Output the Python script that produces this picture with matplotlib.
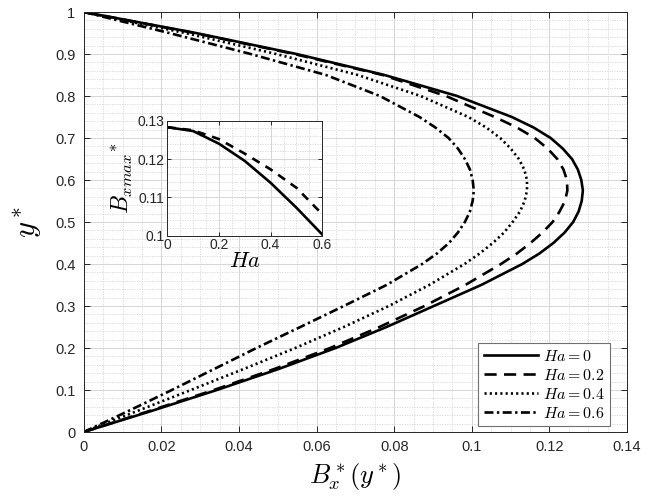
import matplotlib
matplotlib.use("Agg")
import matplotlib.pyplot as plt
from matplotlib.ticker import MultipleLocator

plt.rcParams['font.family'] = ['Liberation Sans', 'DejaVu Sans']
plt.rcParams['mathtext.fontset'] = 'cm'

# ---- data ----
y_star = [0, 0.05, 0.1, 0.15, 0.2, 0.25, 0.3, 0.35, 0.4, 0.425, 0.45, 0.475, 0.5,
          0.525, 0.55, 0.575, 0.6, 0.625, 0.65, 0.675, 0.7, 0.725, 0.75, 0.8,
          0.85, 0.9, 0.95, 1.0]
bx_ha0 = [0, 0.0174, 0.0343, 0.0502, 0.0649, 0.0780, 0.0902, 0.1024, 0.1130, 0.1174,
          0.1210, 0.1239, 0.1261, 0.1275, 0.1283, 0.1286, 0.1282, 0.1273, 0.1258,
          0.1234, 0.1203, 0.1159, 0.1103, 0.0962, 0.0775, 0.0548, 0.0289, 0]
bx_ha02 = [0, 0.0169, 0.0335, 0.0491, 0.0635, 0.0762, 0.0878, 0.0983, 0.1075, 0.1116,
           0.1151, 0.1182, 0.1208, 0.1226, 0.1240, 0.1246, 0.1245, 0.1236, 0.1220,
           0.1195, 0.1162, 0.1116, 0.1059, 0.0933, 0.0770, 0.0542, 0.0285, 0]
bx_ha04 = [0, 0.0138, 0.0276, 0.0412, 0.0545, 0.0670, 0.0786, 0.0890, 0.0981, 0.1020,
           0.1054, 0.1083, 0.1105, 0.1124, 0.1136, 0.1142, 0.1142, 0.1135, 0.1121,
           0.1100, 0.1073, 0.1037, 0.0991, 0.0868, 0.0706, 0.0496, 0.0261, 0]
bx_ha06 = [0, 0.0115, 0.0227, 0.0336, 0.0445, 0.0558, 0.0670, 0.0780, 0.0872, 0.0910,
           0.0941, 0.0964, 0.0982, 0.0995, 0.1002, 0.1005, 0.1002, 0.0995, 0.0982,
           0.0964, 0.0940, 0.0906, 0.0865, 0.0763, 0.0624, 0.0430, 0.0220, 0]
legend_labels = [r'$Ha=0$', r'$Ha=0.2$', r'$Ha=0.4$', r'$Ha=0.6$']

ha_inset = [0, 0.1, 0.2, 0.3, 0.4, 0.5, 0.6]
bxmax_a = [0.1283, 0.1273, 0.1240, 0.1195, 0.1138, 0.1073, 0.1003]
bxmax_b = [0.1283, 0.1275, 0.1252, 0.1214, 0.1173, 0.1125, 0.1056]

x_ticks = [0, 0.02, 0.04, 0.06, 0.08, 0.1, 0.12, 0.14]
x_ticklabels = ['0', '0.02', '0.04', '0.06', '0.08', '0.1', '0.12', '0.14']
y_ticks = [0, 0.1, 0.2, 0.3, 0.4, 0.5, 0.6, 0.7, 0.8, 0.9, 1]
y_ticklabels = ['0', '0.1', '0.2', '0.3', '0.4', '0.5', '0.6', '0.7', '0.8', '0.9', '1']

# ---- styles ----
AX_COL = '#262626'
styles = [
    dict(linestyle='-'),
    dict(linestyle=(0, (4.6, 2.8))),
    dict(linestyle=(0, (0.8, 1.2))),
    dict(linestyle=(0, (3.4, 1.3, 0.9, 1.3))),
]

fig = plt.figure(figsize=(6.7, 5.0), dpi=100)
ax = fig.add_axes([0.125, 0.136, 0.811, 0.840])

for xs, st, lab in zip([bx_ha0, bx_ha02, bx_ha04, bx_ha06], styles, legend_labels):
    ax.plot(xs, y_star, color='black', linewidth=1.9, label=lab, **st)

ax.set_xlim(0, 0.14)
ax.set_ylim(0, 1)
ax.set_xticks(x_ticks)
ax.set_xticklabels(x_ticklabels)
ax.set_yticks(y_ticks)
ax.set_yticklabels(y_ticklabels)
ax.xaxis.set_minor_locator(MultipleLocator(0.005))
ax.yaxis.set_minor_locator(MultipleLocator(0.02))
ax.grid(which='major', color='#d6d6d6', linewidth=0.7, linestyle='-')
ax.grid(which='minor', color='#d6d6d6', linewidth=0.6, linestyle=(0, (1.5, 1.5)))
ax.set_axisbelow(True)
ax.tick_params(which='major', direction='in', length=4, width=0.7, colors=AX_COL,
               labelsize=10.5, top=True, right=True, pad=6)
ax.tick_params(which='minor', length=0)
for sp in ax.spines.values():
    sp.set_color(AX_COL)
    sp.set_linewidth(0.7)
ax.set_xlabel(r'$B_x^*(y^*)$', fontsize=19, labelpad=5)
ax.set_ylabel(r'$y^*$', fontsize=22, labelpad=8)

leg = ax.legend(loc='lower right', bbox_to_anchor=(0.969, 0.014), fontsize=11.5,
                handlelength=3.4, handletextpad=0.3, labelspacing=0.25,
                borderpad=0.35, fancybox=False, framealpha=1, edgecolor='#707070',
                borderaxespad=0)
leg.get_frame().set_linewidth(0.8)

# ---- inset ----
ins = fig.add_axes([0.2497, 0.5286, 0.2313, 0.230])
ins.plot(ha_inset, bxmax_a, color='black', linewidth=1.9, linestyle='-')
ins.plot(ha_inset, bxmax_b, color='black', linewidth=1.9, linestyle=(0, (3.2, 2.6)))
ins.set_xlim(0, 0.6)
ins.set_ylim(0.1, 0.13)
ins.set_xticks([0, 0.2, 0.4, 0.6])
ins.set_xticklabels(['0', '0.2', '0.4', '0.6'])
ins.set_yticks([0.1, 0.11, 0.12, 0.13])
ins.set_yticklabels(['0.1', '0.11', '0.12', '0.13'])
ins.xaxis.set_minor_locator(MultipleLocator(0.05))
ins.yaxis.set_minor_locator(MultipleLocator(0.002))
ins.grid(which='major', color='#d6d6d6', linewidth=0.7, linestyle='-')
ins.grid(which='minor', color='#d6d6d6', linewidth=0.6, linestyle=(0, (1.5, 1.5)))
ins.set_axisbelow(True)
ins.tick_params(which='major', direction='in', length=3, width=0.7, colors=AX_COL,
                labelsize=10, top=True, right=True, pad=2)
ins.tick_params(which='minor', length=0)
for sp in ins.spines.values():
    sp.set_color(AX_COL)
    sp.set_linewidth(0.7)
ins.set_xlabel(r'$Ha$', fontsize=16, labelpad=-1)
ins.set_ylabel(r'$B_{xmax}{}^{*}$', fontsize=17, labelpad=2)

fig.savefig('out.png', dpi=100)
